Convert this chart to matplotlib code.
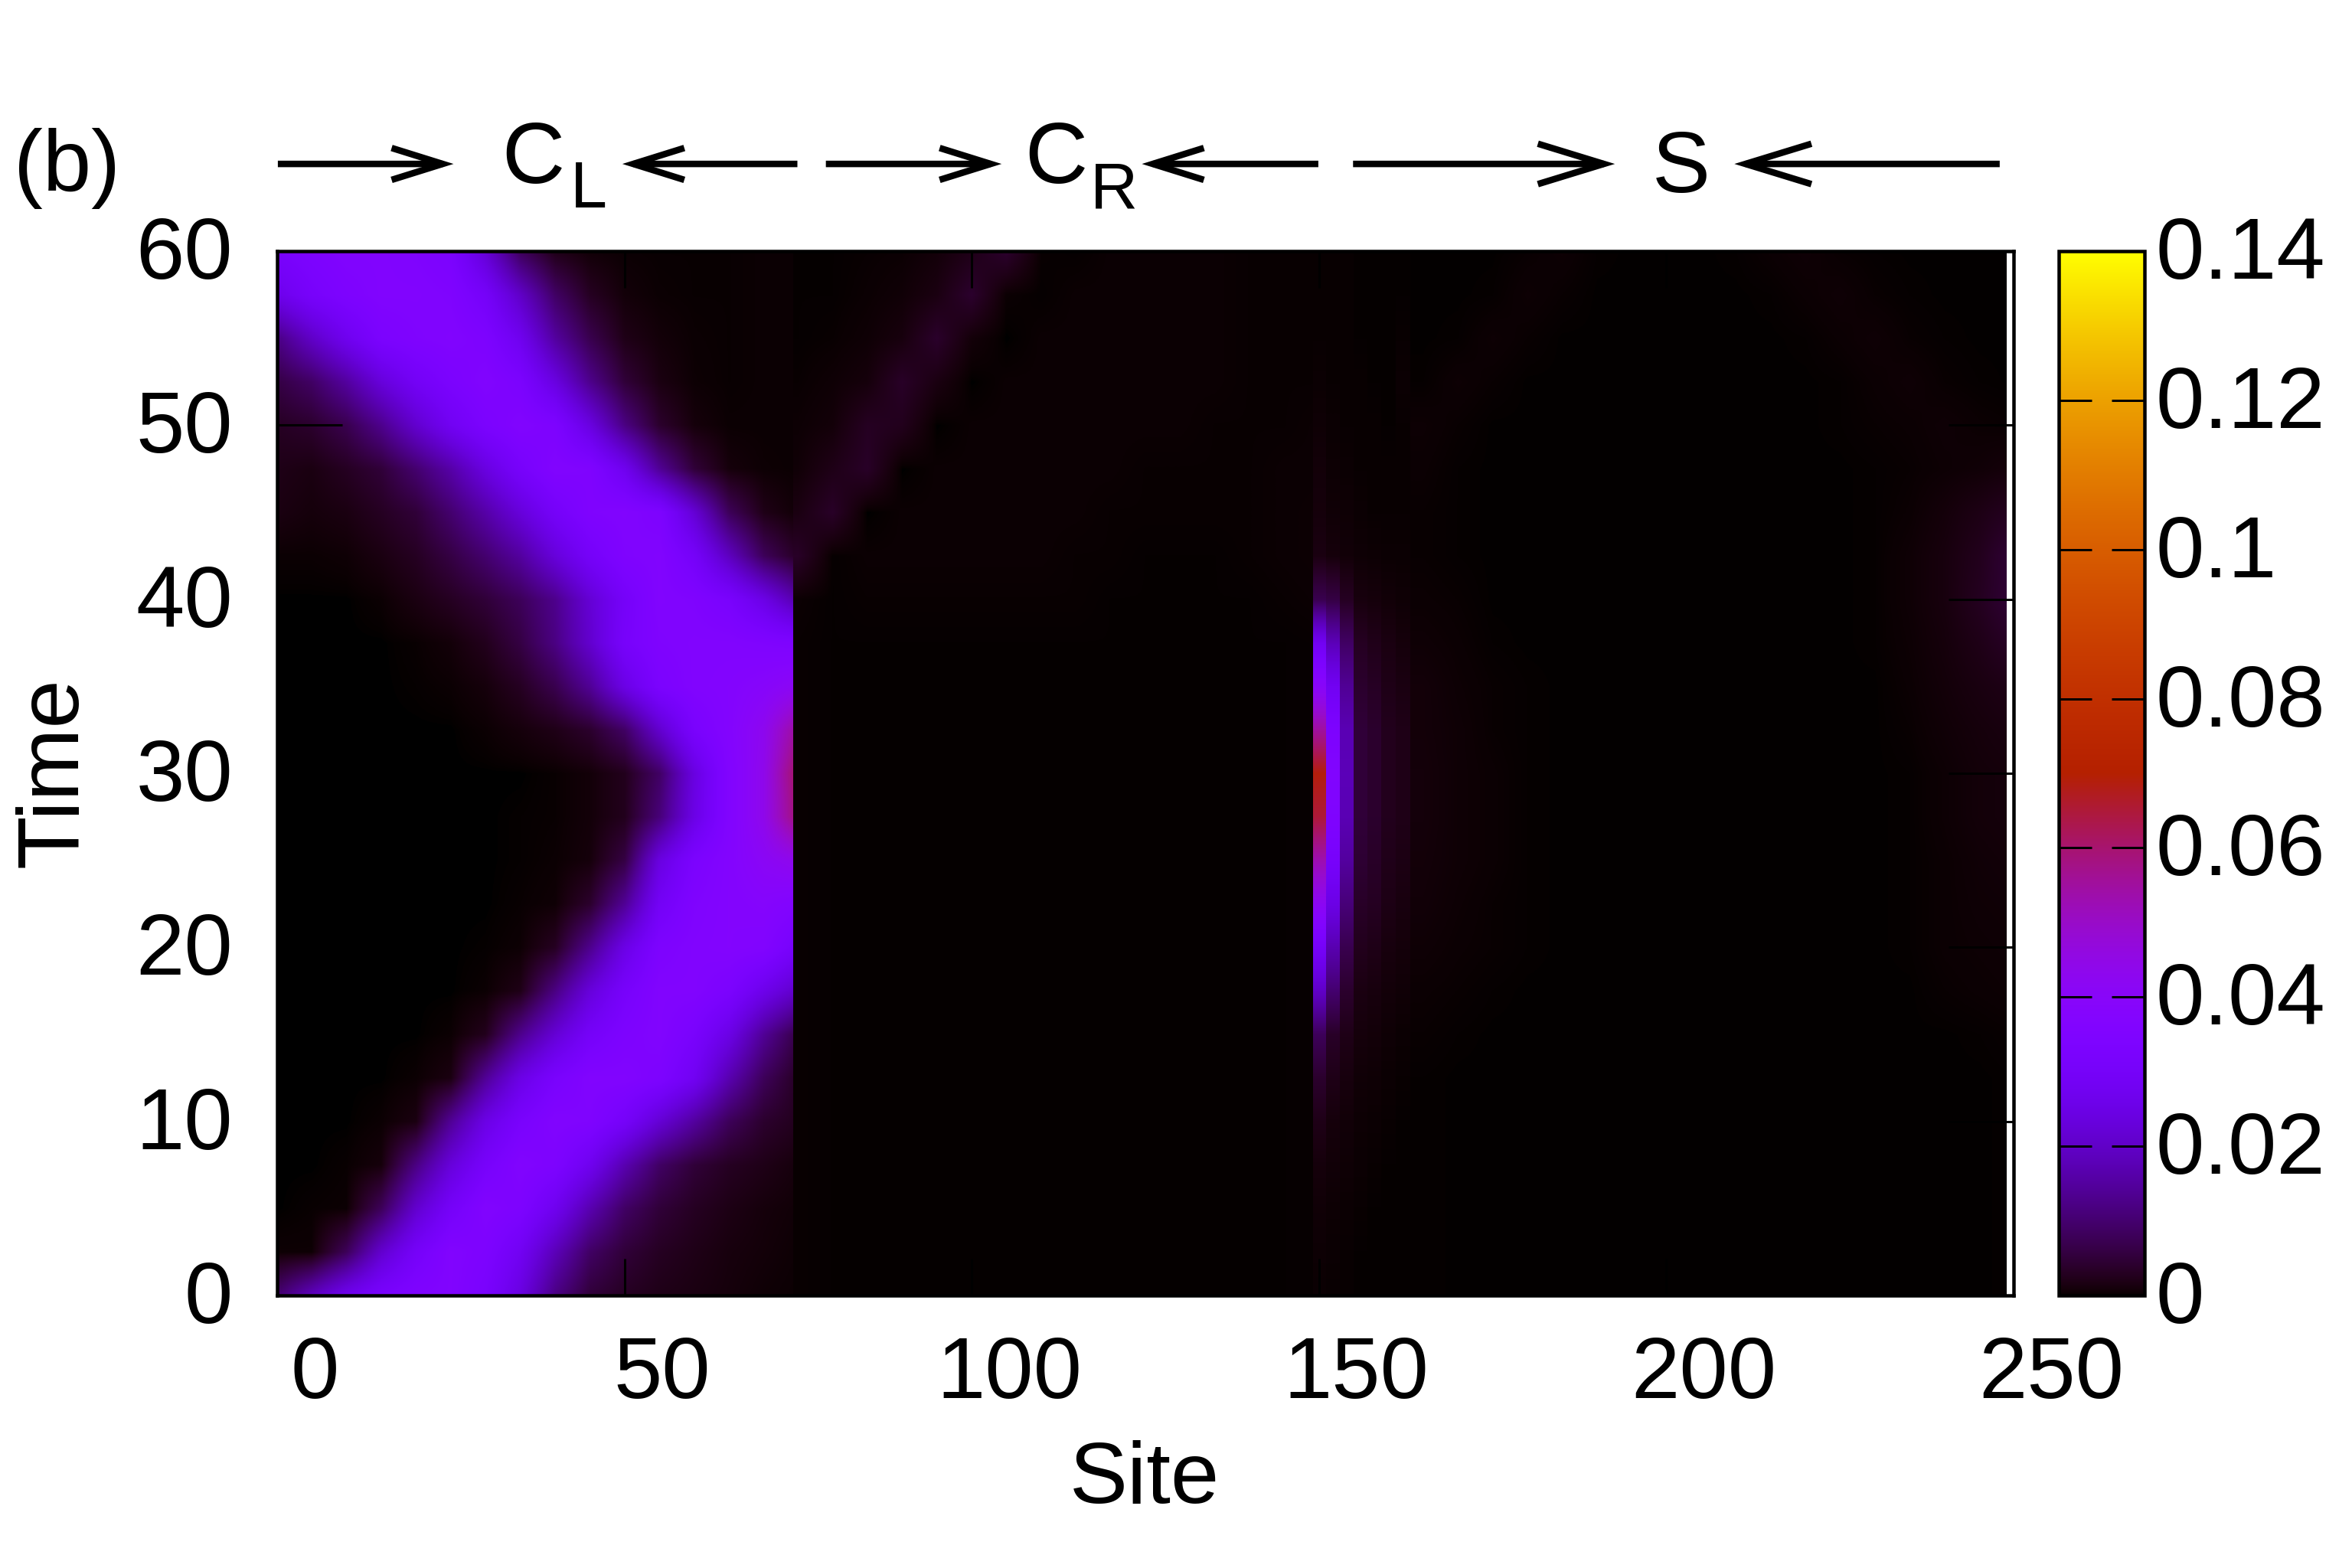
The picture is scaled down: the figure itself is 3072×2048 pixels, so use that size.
"""
Site/time density map with the three regions C_L, C_R and S.
Values are in units of 1e-3, read off the picture.
"""

import numpy as np
import matplotlib
matplotlib.use("Agg")
import matplotlib.pyplot as plt
from matplotlib.patches import Rectangle
from matplotlib.transforms import ScaledTranslation, blended_transform_factory

plt.rcParams['font.family'] = ['Liberation Sans', 'DejaVu Sans']

times = [0, 2.5, 5, 7.5, 10, 12.5, 15, 17.5, 20, 22.5, 25, 27.5, 30, 32.5, 35, 37.5,
         40, 42.5, 45, 47.5, 50, 52.5, 55, 57.5, 60]

# left lead, sites 0,5,...,75, one row per entry of times
left_sites = [0, 75]
left_rows = [
    [10, 19, 27, 32, 35, 36, 32, 24, 12, 5, 3, 2, 1.5, 1, .5, .3],
    [.4, .4, 8, 21, 30, 36, 34, 28, 18, 9, 5, 3, 2, 1.2, .8, .4],
    [0, .2, .3, 8, 21, 30, 36, 34, 27, 17, 9, 5, 3, 1.8, 1, .6],
    [0, 0, .2, 1, 12, 23, 31, 36, 34, 27, 17, 9, 5, 3, 2, 1],
    [0, 0, 0, .3, 1.5, 14, 25, 32, 36, 35, 30, 22, 15, 8, 4, 2.5],
    [0, 0, 0, 0, .3, 1.5, 14, 25, 32, 36, 36, 34, 28, 17, 8, 3],
    [0, 0, 0, 0, 0, .3, 2.5, 13, 22, 30, 34, 36, 32, 25, 14, 6],
    [0, 0, 0, 0, 0, 0, .3, 2, 12, 23, 31, 36, 36, 33, 26, 20],
    [0, 0, 0, 0, 0, 0, .1, .4, 3, 13, 25, 34, 36, 37, 36, 30],
    [0, 0, 0, 0, 0, 0, 0, .2, .5, 4, 14, 29, 35, 37, 38, 36],
    [0, 0, 0, 0, 0, 0, 0, .1, .3, 1, 6, 24, 33, 37, 41, 44],
    [0, 0, 0, 0, 0, 0, 0, .1, .2, .8, 2.5, 11, 25, 36, 44, 60],
    [0, 0, 0, 0, 0, 0, 0, 0, .2, .8, 2.5, 9, 24, 36, 44, 62],
    [0, 0, 0, 0, 0, 0, .3, 1, 2, 4, 9, 21, 32, 37, 43, 56],
    [0, 0, 0, 0, .1, .3, 1, 3, 7, 14, 25, 33, 36, 37, 39, 42],
    [0, 0, 0, 0, .2, .8, 2.5, 6, 12, 21, 31, 35, 36, 36, 35, 34],
    [0, 0, 0, .3, 1.5, 3, 5, 8, 13, 22, 30, 36, 35, 32, 25, 16],
    [.3, .3, .5, 1.5, 3, 6, 10, 15, 23, 30, 35, 36, 30, 19, 8, 3],
    [1.5, 1, 1.5, 3, 5, 10, 16, 23, 30, 35, 36, 34, 22, 8, 2, .5],
    [2, 1.5, 3, 5, 10, 16, 24, 31, 36, 35, 27, 14, 5, 1, .4, .3],
    [3, 4, 7, 13, 21, 28, 33, 36, 34, 24, 12, 4, 1, .3, .3, .3],
    [6, 9, 15, 23, 29, 33, 36, 33, 24, 13, 5, 1.5, .4, .2, .3, .3],
    [12, 20, 27, 33, 35, 36, 34, 27, 15, 7, 2, .8, .3, .2, .3, .3],
    [26, 31, 34, 36, 36, 35, 30, 20, 9, 3, .8, .3, .2, .2, .3, .3],
    [32, 34, 36, 36, 35, 33, 22, 8, 2, .6, .3, .2, .2, .2, .3, .3],
]

# right lead, sites 75,80,...,150
mid_sites = [75, 150]
mid_quiet = [.2, .1, .1, .1, .1, .1, .1, .1, .1, .1, .1, .1, .1, .1, .1, .15]
mid_rows = [mid_quiet] * 16 + [
    [.3, .1, .2, .2, .2, .2, .2, .2, .2, .1, .1, .1, .1, .1, .2, .3],
    [3.5, .1, .3, .3, .3, .3, .3, .3, .2, .2, .1, .1, .1, .2, .3, .4],
    [1.5, 3.5, 0, .3, .3, .3, .3, .3, .3, .2, .2, .2, .2, .2, .3, .4],
    [.6, 2, 3.5, 0, .3, .3, .3, .3, .3, .3, .2, .2, .2, .2, .3, .3],
    [.4, .8, 3, 2.5, 0, .3, .3, .3, .3, .3, .3, .3, .2, .2, .2, .3],
    [.2, .5, 1, 3.5, 1.5, 0, .3, .3, .3, .3, .3, .3, .3, .2, .2, .2],
    [.1, .2, .5, 1.2, 3.8, .8, 0, .3, .3, .3, .3, .3, .3, .2, .2, .2],
    [.1, .1, .3, .6, 1.5, 4, .3, .1, .3, .3, .3, .3, .3, .2, .2, .2],
    [.1, .1, .2, .3, .8, 2, 4, .2, .1, .3, .3, .3, .3, .2, .2, .2],
]

# first columns of the system, two sites wide, next to the junction
strip_edges = [149.1, 151, 153, 155, 157, 159, 161, 163]
strip_1 = [.3, .4, .6, 1, 2, 4, 8, 20, 30, 42, 53, 65, 69, 55, 40, 28, 7, 1.5, 1, .8, .5, .3, .2, .2, .2]
strip_2 = [.2, .3, .4, .7, 1, 2, 3.5, 10, 17, 25, 31, 35, 36, 34, 28, 18, 6, 1, .6, .4, .3, .2, .2, .2, .2]
strip_3 = [.2, .2, .3, .5, .7, 1.2, 2, 4, 7, 11, 15, 17.5, 18, 17.5, 14, 9, 3, .7, .5, .3, .2, .2, .2, .2, .2]
strip_4 = [.1, .1, .2, .3, .4, .6, 1, 1.5, 2.5, 3.5, 4.5, 5, 5, 5, 4, 3, 1.2, .5, .3, .2, .2, .2, .1, .1, .1]
strip_5 = [.1, .1, .1, .2, .3, .5, .8, 1.2, 2, 3, 3.5, 4, 4, 4, 3.2, 2.2, 1, .4, .2, .2, .2, .1, .1, .1, .1]
strip_6 = [.1, .1, .1, .1, .2, .3, .5, .8, 1.2, 1.8, 2.2, 2.5, 2.5, 2.5, 2, 1.5, .7, .3, .2, .2, .1, .1, .1, .1, .1]
strip_7 = [.1, .1, .1, .1, .1, .2, .3, .6, .9, 1.3, 1.7, 2, 2, 2, 1.5, 1, .5, .3, .2, .2, .2, .3, .2, .1, .1]

# rest of the system, sites 165,170,...,250
right_sites = [165, 250]
right_quiet = [.1, .05, .05, .05, .05, .05, .05, .05, .05, .05, .05, .05, .05, .05, .05, .05, .05, .1]
right_rows = [right_quiet] * 6 + [
    [.2, .1, .05, .05, .05, .05, .05, .05, .05, .05, .05, .05, .05, .05, .05, .05, .1, .2],
    [.3, .2, .1, .05, .05, .05, .05, .05, .05, .05, .05, .05, .05, .05, .05, .2, .3, .4],
    [.5, .3, .2, .1, .05, .05, .05, .05, .05, .05, .05, .05, .05, .05, .1, .3, .4, .5],
    [.7, .4, .2, .1, .05, .05, .05, .05, .05, .05, .05, .05, .05, .05, .1, .3, .5, .6],
    [.8, .5, .3, .1, .05, .05, .05, .05, .05, .05, .05, .05, .05, .05, .1, .3, .6, .8],
    [.9, .5, .3, .1, .05, .05, .05, .05, .05, .05, .05, .05, .05, .05, .1, .4, .8, 1],
    [.9, .5, .3, .1, .05, .05, .05, .05, .05, .05, .05, .05, .05, .05, .1, .4, .8, 1],
    [.8, .5, .2, .1, .05, .05, .05, .05, .05, .05, .05, .05, .05, .05, .2, .6, 1, 1.4],
    [.8, .4, .2, .1, .05, .05, .05, .05, .05, .05, .05, .05, .05, .05, .3, .8, 1.4, 2],
    [.5, .3, .1, .05, .05, .05, .05, .05, .05, .05, .05, .05, .05, .1, .4, 1, 2, 3.5],
    [.3, .2, .05, .05, .05, .05, .05, .05, .05, .05, .05, .05, .05, .1, .5, 1.2, 2.8, 5],
    [.2, .1, .05, .05, .05, .05, .05, .05, .05, .05, .05, .05, .05, .1, .5, 1.2, 2.5, 5],
    [.2, .1, .05, .05, .05, .05, .05, .05, .05, .05, .05, .05, .05, .1, .3, .9, 1.8, 3],
    [.3, .1, .05, .05, .05, .05, .05, .05, .05, .05, .05, .05, .05, .1, .2, .4, .6, 1],
    [.4, .2, .05, .05, .05, .05, .05, .05, .05, .05, .05, .05, .1, .2, .3, .5, .3, .2],
    [.1, .4, .2, .05, .05, .05, .05, .05, .05, .05, .05, .05, .1, .3, .5, .2, .1, .05],
    [.05, .1, .4, .2, .05, .05, .05, .05, .05, .05, .05, .1, .3, .5, .2, .1, .05, .05],
    [.05, .05, .1, .4, .2, .05, .05, .05, .05, .05, .1, .3, .5, .2, .1, .05, .05, .05],
    [.05, .05, .05, .2, .4, .1, .05, .05, .05, .1, .3, .5, .2, .1, .05, .05, .05, .05],
]

xticks = [0, 50, 100, 150, 200, 250]
yticks = [0, 10, 20, 30, 40, 50, 60]
cbar_ticks = [0, 0.02, 0.04, 0.06, 0.08, 0.1, 0.12, 0.14]
cbar_labels = ['0', '0.02', '0.04', '0.06', '0.08', '0.1', '0.12', '0.14']
vmax = 0.14

# tail and head of every arrow above the map, in sites
arrow_tails = [0.1, 74.9, 79, 149.9, 154.9, 248]
arrow_heads = [25.4, 49.7, 104.3, 124.5, 192.6, 209.8]

W, H = 3072, 2048
FS = 41
px = 72 / 200  # points per pixel
cmap = plt.get_cmap('gnuplot', 4096)  # 256 levels is too coarse near zero


def paint(table, x0, x1, dx, clip0, clip1):
    arr = np.array(table) / 1000.0
    dt = times[1] - times[0]
    extent = (x0 - dx / 2, x1 + dx / 2, times[0] - dt / 2, times[-1] + dt / 2)
    im = ax.imshow(arr, origin='lower', extent=extent, aspect='auto', cmap=cmap,
                   vmin=0, vmax=vmax, interpolation='bilinear', interpolation_stage='data')
    im.set_clip_path(Rectangle((clip0, 0), clip1 - clip0, 60, transform=ax.transData))
    return im


fig = plt.figure(figsize=(W / 200, H / 200), dpi=200)
ax = fig.add_axes([362 / W, 1 - 1692 / H, (2630 - 362) / W, (1692 - 328) / H])

im = paint(left_rows, left_sites[0], left_sites[1], 5, 0, 74.3)
paint(mid_rows, mid_sites[0], mid_sites[1], 5, 74.3, 149.1)
paint(right_rows, right_sites[0], right_sites[1], 5, 163, 248.9)
strips = [strip_1, strip_2, strip_3, strip_4, strip_5, strip_6, strip_7]
for i, col in enumerate(strips):
    x0, x1 = strip_edges[i], strip_edges[i + 1]
    paint(np.array(col)[:, None], (x0 + x1) / 2, (x0 + x1) / 2, x1 - x0, x0, x1)

ax.set_xlim(0, 250)
ax.set_ylim(0, 60)
ax.set_xticks(xticks)
ax.set_yticks(yticks)
ax.set_xticklabels([str(v) for v in xticks], fontsize=FS)
ax.set_yticklabels([str(v) for v in yticks], fontsize=FS)
ax.tick_params(axis='x', direction='in', top=True, length=48 * px, width=3 * px, pad=52 * px, color='black')
ax.tick_params(axis='y', direction='in', right=True, length=85 * px, width=3 * px, pad=58 * px, color='black')
for side in ax.spines:
    ax.spines[side].set_linewidth(4.5 * px)

# the x labels sit to the right of their ticks in the original
shift = ScaledTranslation(49 / 200, 0, fig.dpi_scale_trans)
for lab in ax.get_xticklabels():
    lab.set_transform(lab.get_transform() + shift)
up = ScaledTranslation(0, 5 / 200, fig.dpi_scale_trans)
for lab in ax.get_yticklabels():
    lab.set_transform(lab.get_transform() + up)

fig.text(1495 / W, 1 - 1934 / H, 'Site', fontsize=FS, ha='center', va='center')
fig.text(71 / W, 1 - 1009 / H, 'Time', fontsize=FS, ha='center', va='center', rotation=90)

# colour bar
cax = fig.add_axes([2689 / W, 1 - 1692 / H, (2801 - 2689) / W, (1692 - 328) / H])
cbar = fig.colorbar(im, cax=cax)
cbar.set_ticks(cbar_ticks)
cbar.set_ticklabels(cbar_labels)
cbar.outline.set_linewidth(4.5 * px)
cax.tick_params(direction='in', left=True, right=True, length=43 * px, width=3 * px,
                pad=14 * px, labelsize=FS, color='black')
for lab in cax.get_yticklabels():
    lab.set_transform(lab.get_transform() + up)

# arrows and region labels
trans = blended_transform_factory(ax.transData, ax.transAxes)
for i in range(len(arrow_tails)):
    if i == 4 or i == 5:
        style = '->,head_length=31,head_width=9.5'
    else:
        style = '->,head_length=24,head_width=7.5'
    ax.annotate('', xy=(arrow_heads[i], 1.0835), xytext=(arrow_tails[i], 1.0835),
                xycoords=trans, textcoords=trans,
                arrowprops=dict(arrowstyle=style, mutation_scale=1, lw=8.5 * px, color='black',
                                shrinkA=0, shrinkB=0, capstyle='butt', joinstyle='miter'))

fig.text(18 / W, 1 - 249 / H, '(b)', fontsize=FS, va='baseline')
fig.text(655 / W, 1 - 239 / H, 'C', fontsize=FS, va='baseline')
fig.text(745 / W, 1 - 271 / H, 'L', fontsize=31, va='baseline')
fig.text(1338 / W, 1 - 239 / H, 'C', fontsize=FS, va='baseline')
fig.text(1424 / W, 1 - 271 / H, 'R', fontsize=31, va='baseline')
fig.text(2196 / W, 1 - 251 / H, 'S', fontsize=FS, va='baseline', ha='center')

fig.savefig('out.png', dpi=200)
